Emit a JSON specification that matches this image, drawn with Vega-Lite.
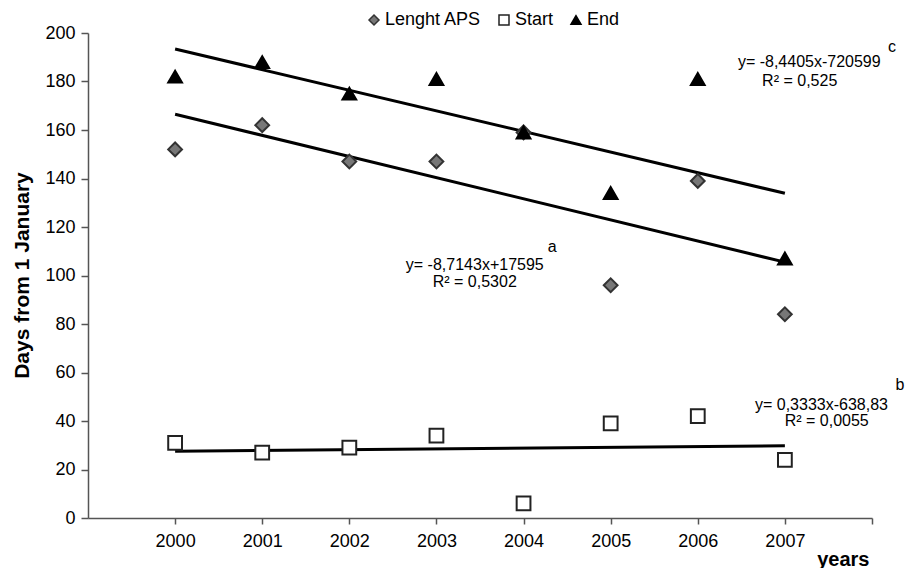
{
  "$schema": "https://vega.github.io/schema/vega-lite/v6.json",
  "width": 784,
  "height": 485,
  "autosize": "none",
  "padding": {"left": 88, "top": 33, "right": 34, "bottom": 50},
  "background": "white",
  "config": {
    "font": "Liberation Sans",
    "view": {"stroke": null}
  },
  "datasets": {
    "pts": [
      {"year": 2000, "series": "Lenght APS", "days": 152},
      {"year": 2001, "series": "Lenght APS", "days": 162},
      {"year": 2002, "series": "Lenght APS", "days": 147},
      {"year": 2003, "series": "Lenght APS", "days": 147},
      {"year": 2004, "series": "Lenght APS", "days": 159},
      {"year": 2005, "series": "Lenght APS", "days": 96},
      {"year": 2006, "series": "Lenght APS", "days": 139},
      {"year": 2007, "series": "Lenght APS", "days": 84},
      {"year": 2000, "series": "Start", "days": 31},
      {"year": 2001, "series": "Start", "days": 27},
      {"year": 2002, "series": "Start", "days": 29},
      {"year": 2003, "series": "Start", "days": 34},
      {"year": 2004, "series": "Start", "days": 6},
      {"year": 2005, "series": "Start", "days": 39},
      {"year": 2006, "series": "Start", "days": 42},
      {"year": 2007, "series": "Start", "days": 24},
      {"year": 2000, "series": "End", "days": 182},
      {"year": 2001, "series": "End", "days": 188},
      {"year": 2002, "series": "End", "days": 175},
      {"year": 2003, "series": "End", "days": 181},
      {"year": 2004, "series": "End", "days": 159},
      {"year": 2005, "series": "End", "days": 134},
      {"year": 2006, "series": "End", "days": 181},
      {"year": 2007, "series": "End", "days": 107}
    ],
    "trend": [
      {"line": "a", "year": 2000, "days": 166.5},
      {"line": "a", "year": 2007, "days": 105.5},
      {"line": "b", "year": 2000, "days": 27.5},
      {"line": "b", "year": 2007, "days": 29.8},
      {"line": "c", "year": 2000, "days": 193.4},
      {"line": "c", "year": 2007, "days": 133.9}
    ],
    "labels": [
      {"year": 2007.28, "days": 188.0, "txt": "y= -8,4405x-720599"},
      {"year": 2007.17, "days": 180.2, "txt": "R² = 0,525"},
      {"year": 2008.23, "days": 194.2, "txt": "c"},
      {"year": 2003.44, "days": 104.3, "txt": "y= -8,7143x+17595"},
      {"year": 2003.44, "days": 97.3, "txt": "R² = 0,5302"},
      {"year": 2004.33, "days": 111.8, "txt": "a"},
      {"year": 2007.42, "days": 46.6, "txt": "y= 0,3333x-638,83"},
      {"year": 2007.48, "days": 40.0, "txt": "R² = 0,0055"},
      {"year": 2008.32, "days": 54.8, "txt": "b"}
    ]
  },
  "layer": [
    {
      "data": {"name": "trend"},
      "mark": {"type": "line", "color": "black", "strokeWidth": 3},
      "encoding": {
        "x": {"field": "year", "type": "quantitative"},
        "y": {"field": "days", "type": "quantitative"},
        "detail": {"field": "line"}
      }
    },
    {
      "data": {"name": "pts"},
      "mark": {"type": "point", "opacity": 1, "strokeWidth": 2, "size": 190},
      "encoding": {
        "x": {
          "field": "year", "type": "quantitative",
          "scale": {"domain": [1999, 2008], "nice": false, "zero": false},
          "axis": {
            "values": [2000, 2001, 2002, 2003, 2004, 2005, 2006, 2007, 2008],
            "labelExpr": "datum.value == 2008 ? '' : datum.label",
            "format": "d",
            "grid": false,
            "domainColor": "#555",
            "domainWidth": 1.5,
            "tickColor": "#555",
            "tickWidth": 1.5,
            "tickSize": 6,
            "labelFontSize": 18,
            "labelColor": "black",
            "labelPadding": 8,
            "title": "years",
            "titleFontSize": 20,
            "titleFontWeight": "bold",
            "titleColor": "black",
            "titleAlign": "right",
            "titleAnchor": null,
            "titleBaseline": "alphabetic",
            "titleX": 781,
            "titleY": 47
          }
        },
        "y": {
          "field": "days", "type": "quantitative",
          "scale": {"domain": [0, 200], "nice": false},
          "axis": {
            "values": [0, 20, 40, 60, 80, 100, 120, 140, 160, 180, 200],
            "grid": false,
            "domainColor": "#555",
            "domainWidth": 1.5,
            "tickColor": "#555",
            "tickWidth": 1.5,
            "tickSize": 7,
            "labelFontSize": 18,
            "labelColor": "black",
            "labelPadding": 6,
            "title": "Days from 1 January",
            "titleFontSize": 21,
            "titleFontWeight": "bold",
            "titleColor": "black",
            "titleBaseline": "middle",
            "titleX": -66,
            "titleY": 242
          }
        },
        "shape": {
          "field": "series", "type": "nominal",
          "scale": {"domain": ["Lenght APS", "Start", "End"], "range": ["diamond", "square", "triangle-up"]},
          "legend": {
            "title": null,
            "orient": "none",
            "legendX": 277,
            "legendY": -22,
            "direction": "horizontal",
            "labelFontSize": 18,
            "labelColor": "black",
            "symbolSize": 100,
            "symbolStrokeWidth": 1.5,
            "labelOffset": 2,
            "columnPadding": 13
          }
        },
        "fill": {
          "field": "series", "type": "nominal",
          "scale": {"domain": ["Lenght APS", "Start", "End"], "range": ["#777777", "white", "black"]}
        },
        "stroke": {
          "field": "series", "type": "nominal",
          "scale": {"domain": ["Lenght APS", "Start", "End"], "range": ["#333333", "#222222", "black"]}
        }
      }
    },
    {
      "data": {"name": "labels"},
      "mark": {"type": "text", "fontSize": 16, "color": "black", "align": "center", "baseline": "middle"},
      "encoding": {
        "x": {"field": "year", "type": "quantitative"},
        "y": {"field": "days", "type": "quantitative"},
        "text": {"field": "txt"}
      }
    }
  ]
}
